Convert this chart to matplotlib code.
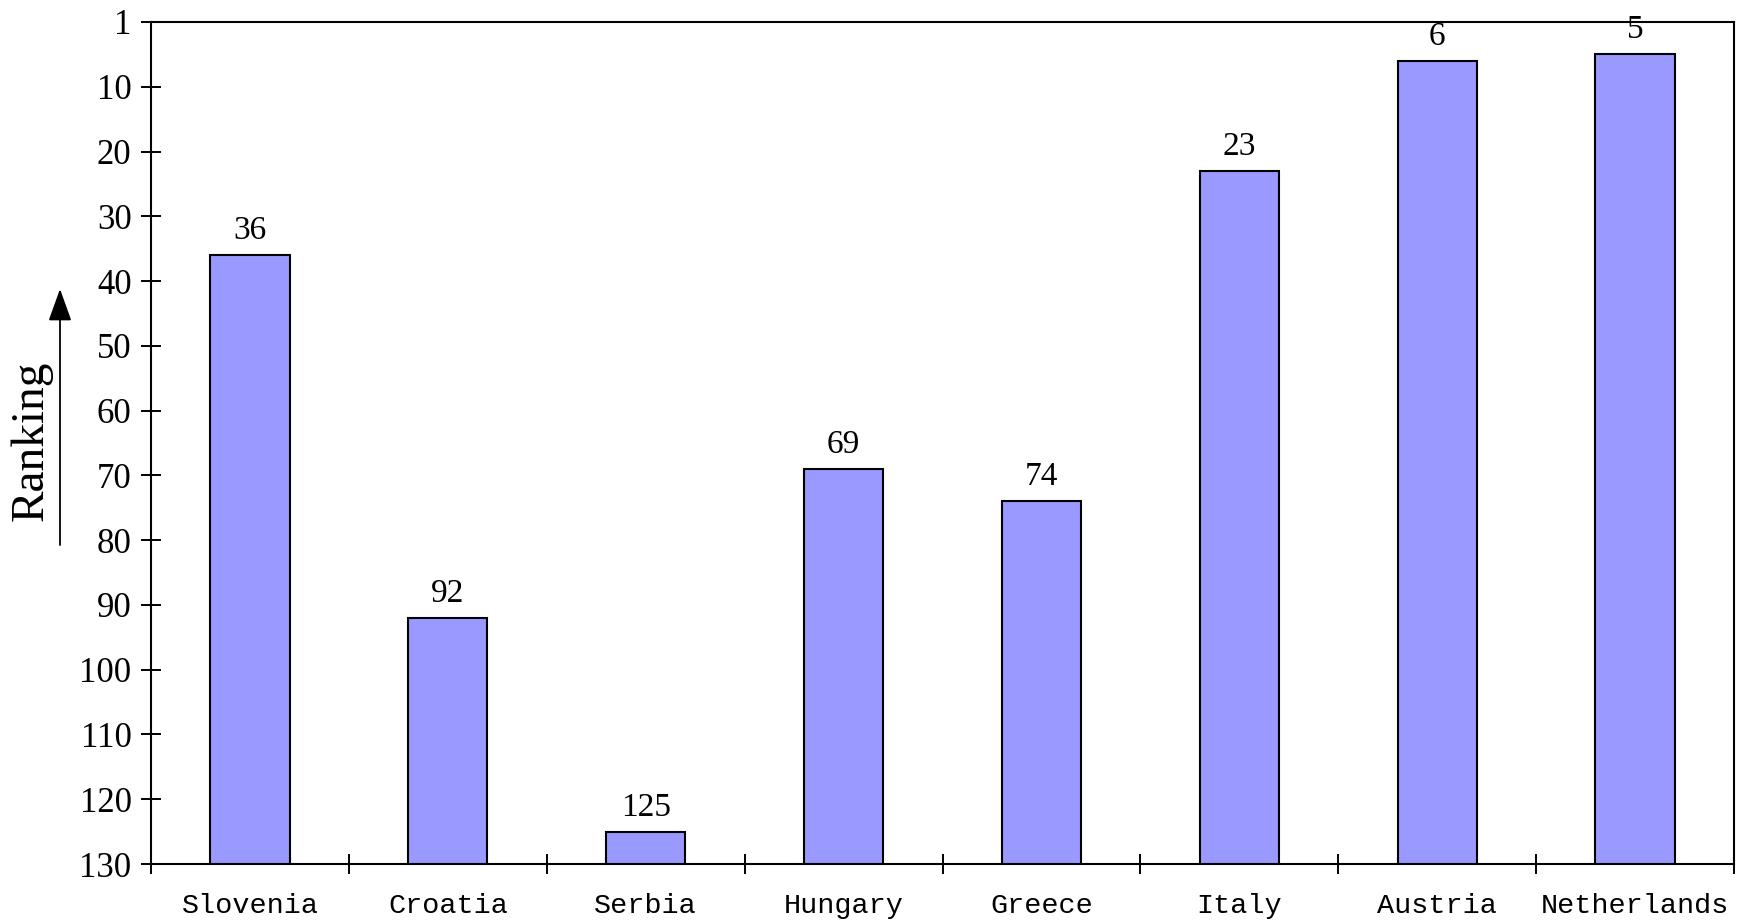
import matplotlib
matplotlib.use("Agg")
import matplotlib.pyplot as plt
from matplotlib.patches import FancyArrowPatch
import numpy as np

countries = ["Slovenia", "Croatia", "Serbia", "Hungary", "Greece",
             "Italy", "Austria", "Netherlands"]
rankings = [36, 92, 125, 69, 74, 23, 6, 5]
y_tick_pos = [0, 10, 20, 30, 40, 50, 60, 70, 80, 90, 100, 110, 120, 130]
y_tick_labels = ["1", "10", "20", "30", "40", "50", "60", "70", "80", "90",
                 "100", "110", "120", "130"]

SERIF = ["Liberation Serif", "DejaVu Serif"]
MONO = ["Liberation Mono", "DejaVu Sans Mono"]
BASE = 130

fig = plt.figure(figsize=(17.44, 9.21), dpi=100)
ax = fig.add_axes([151 / 1744, 1 - 864 / 921, (1734 - 151) / 1744, (864 - 22) / 921])

x = np.arange(len(countries))
vals = np.array(rankings, dtype=float)
ax.bar(x, vals - BASE, bottom=BASE, width=0.4, color="#9999FF",
       edgecolor="black", linewidth=1.5, zorder=3)

for xi, v in zip(x, rankings):
    ax.annotate(str(v), (xi, v), xytext=(0, 17.5), textcoords="offset points",
                ha="center", va="center", fontsize=24, family=SERIF, zorder=4)

ax.set_xlim(-0.5, len(countries) - 0.5)
ax.set_ylim(BASE, 0)

ax.set_yticks(y_tick_pos)
ax.set_yticklabels(y_tick_labels, fontsize=25, family=SERIF)
ax.tick_params(axis="y", direction="inout", length=14, width=1.4, pad=7)

ax.set_xticks(x)
ax.set_xticklabels(countries, fontsize=20.5, family=MONO)
ax.set_xticks(np.arange(-0.5, len(countries)), minor=True)
ax.tick_params(axis="x", which="major", length=0, pad=21)
ax.tick_params(axis="x", which="minor", direction="inout", length=14, width=1.4)

for sp in ax.spines.values():
    sp.set_linewidth(1.5)
    sp.set_color("black")

# axis title with an upward arrow showing better ranks
fig.text(31 / 1744, 1 - 441 / 921, "Ranking", rotation=90, ha="center",
         va="center", fontsize=34, family=SERIF)
arrow = FancyArrowPatch((60 / 1744, 1 - 545 / 921), (60 / 1744, 1 - 289 / 921),
                        transform=fig.transFigure,
                        arrowstyle="-|>,head_length=1.0,head_width=0.36",
                        mutation_scale=20, color="black", linewidth=1.3,
                        shrinkA=0, shrinkB=0)
fig.patches.append(arrow)

fig.savefig("out.png", dpi=100)
